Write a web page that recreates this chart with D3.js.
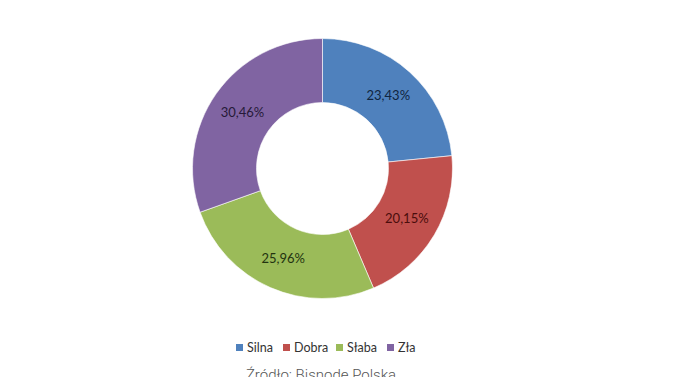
<!DOCTYPE html>
<html>
<head>
<meta charset="utf-8">
<script src="https://cdn.jsdelivr.net/npm/d3@7"></script>
<style>
  body { margin: 0; background: #fff; }
  svg { display: block; }
</style>
</head>
<body>
<svg id="chart" width="687" height="377"></svg>
<script>
var categories = ["Silna", "Dobra", "Słaba", "Zła"]; // legend order
var shares = [23.43, 20.15, 25.96, 30.46]; // percent
var labels = ["23,43%", "20,15%", "25,96%", "30,46%"];
var sourceText = "Źródło: Bisnode Polska";

var fills = ["#4f81bd", "#c0504d", "#9bbb59", "#8064a2"];
var labelInk = ["#0f2540", "#4a0d0c", "#233310", "#261a38"];

var svg = d3.select("#chart");
var cx = 322.5, cy = 168.5; // donut centre
var outerR = 130, innerR = 66;

var pie = d3.pie().sort(null).value(d => d.v);
var arc = d3.arc().innerRadius(innerR).outerRadius(outerR);
var data = categories.map((c, i) => ({ c: c, v: shares[i], l: labels[i], i: i }));

var donut = svg.append("g").attr("transform", `translate(${cx},${cy})`);

donut.selectAll("path")
    .data(pie(data))
    .enter()
    .append("path")
    .attr("d", arc)
    .attr("fill", d => fills[d.data.i])
    .attr("stroke", "#fff")
    .attr("stroke-width", 0.6);

donut.selectAll("text")
    .data(pie(data))
    .enter()
    .append("text")
    .attr("transform", d => `translate(${arc.centroid(d)})`)
    .attr("text-anchor", "middle")
    .attr("dy", "0.35em")
    .attr("font-family", "Lato, 'Open Sans', sans-serif")
    .attr("font-size", 13)
    .attr("fill", d => labelInk[d.data.i])
    .text(d => d.data.l);

// legend
var legendX = d3.scaleOrdinal().domain(categories).range([236, 283, 336, 387]);
var legend = svg.append("g");
var item = legend.selectAll("g")
    .data(categories)
    .enter()
    .append("g")
    .attr("transform", d => `translate(${legendX(d)},344)`);
item.append("rect")
    .attr("width", 7)
    .attr("height", 7)
    .attr("fill", (d, i) => fills[i]);
item.append("text")
    .attr("x", 11)
    .attr("y", 8)
    .attr("font-family", "Lato, 'Open Sans', sans-serif")
    .attr("font-size", 12.5)
    .attr("fill", "#333")
    .text(d => d);

svg.append("text")
    .attr("x", 321)
    .attr("y", 379.5)
    .attr("text-anchor", "middle")
    .attr("font-family", "Roboto, sans-serif")
    .attr("font-weight", 300)
    .attr("font-size", 15)
    .attr("fill", "#555")
    .text(sourceText);
</script>
</body>
</html>
